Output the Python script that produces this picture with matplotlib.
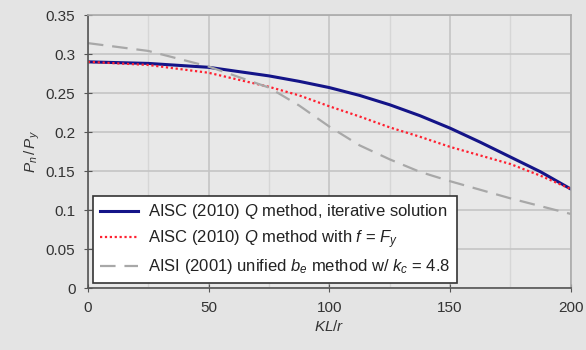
import numpy as np
import matplotlib
matplotlib.use("Agg")
import matplotlib.pyplot as plt
from matplotlib.ticker import MultipleLocator, FuncFormatter

plt.rcParams['font.family'] = 'Liberation Sans'
plt.rcParams['mathtext.fontset'] = 'custom'
plt.rcParams['mathtext.rm'] = 'Liberation Sans'
plt.rcParams['mathtext.it'] = 'Liberation Sans:italic'

# slenderness KL/r
kl_r = [0, 25, 50, 75, 87.5, 100, 112.5, 125, 137.5, 150, 162.5, 175, 187.5, 200]

# AISC (2010) Q method, iterative
q_iter = [0.290, 0.288, 0.283, 0.272, 0.265, 0.257, 0.247, 0.235, 0.221, 0.205,
          0.187, 0.168, 0.149, 0.127]
# AISC (2010) Q method with f = Fy
q_fy = [0.290, 0.286, 0.276, 0.258, 0.247, 0.233, 0.220, 0.206, 0.194, 0.181,
        0.170, 0.159, 0.144, 0.127]
# AISI (2001) unified be method
aisi = [0.314, 0.304, 0.284, 0.257, 0.234, 0.207, 0.183, 0.165, 0.149, 0.137,
        0.126, 0.115, 0.105, 0.095]

labels = ["AISC (2010) $Q$ method, iterative solution",
          "AISC (2010) $Q$ method with $f$ = $F_y$",
          "AISI (2001) unified $b_e$ method w/ $k_c$ = 4.8"]

fig = plt.figure(figsize=(5.86, 3.5), dpi=100)
fig.patch.set_facecolor('#e4e4e4')
ax = fig.add_axes([0.150, 0.177, 0.824, 0.780])
ax.set_facecolor('#e8e8e8')

ax.plot(kl_r, q_iter, color='#141488', lw=2.2, label=labels[0])
ax.plot(kl_r, q_fy, color='#ff2030', lw=1.6, ls=(0, (1, 1.2)), label=labels[1])
ax.plot(kl_r, aisi, color='#a8a8a8', lw=1.6, ls=(0, (7, 4)), label=labels[2])

ax.set_xlim(0, 200)
ax.set_ylim(0, 0.35)
ax.xaxis.set_major_locator(MultipleLocator(50))
ax.xaxis.set_minor_locator(MultipleLocator(25))
ax.yaxis.set_major_locator(MultipleLocator(0.05))
ax.yaxis.set_major_formatter(FuncFormatter(lambda v, p: f"{v:.2f}".rstrip('0').rstrip('.')))
ax.grid(which='major', color='#c4c4c4', lw=1.2)
ax.grid(which='minor', axis='x', color='#d6d6d6', lw=1.0)
ax.set_axisbelow(True)

for s in ['left', 'bottom']:
    ax.spines[s].set_color('#555555')
    ax.spines[s].set_linewidth(1.2)
for s in ['top', 'right']:
    ax.spines[s].set_color('#aaaaaa')
    ax.spines[s].set_linewidth(1.2)

ax.tick_params(which='major', direction='inout', length=6, color='#555555',
               labelsize=11, labelcolor='#333333', pad=6)
ax.tick_params(which='minor', length=0)

ax.set_xlabel('$KL/r$', fontsize=11, color='#333333', labelpad=3)
ax.set_ylabel(r'$P_n\,/\,P_y$', fontsize=11, color='#333333', labelpad=3)

leg = ax.legend(loc='lower left', bbox_to_anchor=(0.0, 0.0), borderaxespad=0.3,
                fontsize=12, fancybox=False, framealpha=1, edgecolor='#333333',
                handlelength=2.3, handletextpad=0.6, borderpad=0.4,
                labelspacing=0.4)
leg.get_frame().set_linewidth(1.2)
for t in leg.get_texts():
    t.set_color('#222222')

fig.savefig('out.png', dpi=100, facecolor=fig.get_facecolor())
